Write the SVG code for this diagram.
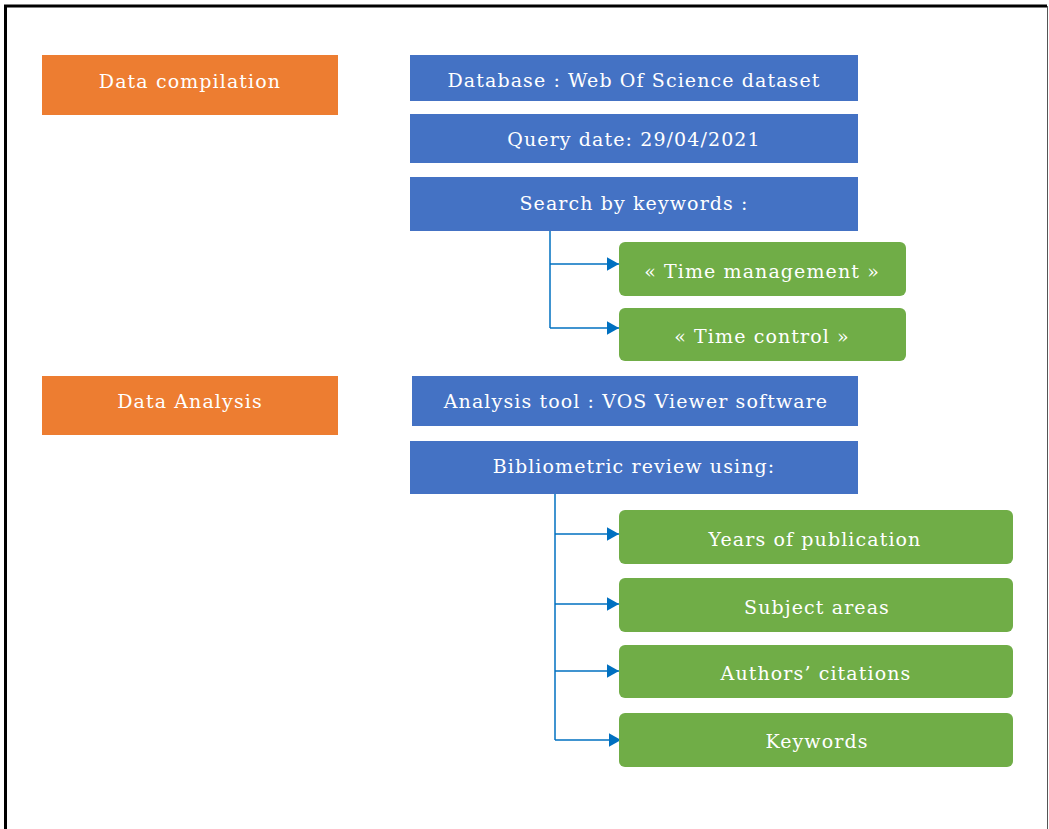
<svg xmlns="http://www.w3.org/2000/svg" width="1049" height="829" viewBox="0 0 1049 829">
<defs>
<style>
.o{fill:#ED7D31}
.b{fill:#4472C4}
.g{fill:#70AD47}
.t{fill:#fff;font-family:"DejaVu Serif","Liberation Serif",serif;font-size:19px;letter-spacing:1.1px;text-anchor:middle;dominant-baseline:central}
.c{fill:none;stroke:#0070C0;stroke-width:1.5}
</style>
<marker id="ar" viewBox="0 0 10 10" refX="10" refY="5" markerWidth="8" markerHeight="9" orient="auto" markerUnits="strokeWidth" preserveAspectRatio="none">
<path d="M0,0 L10,5 L0,10 Z" fill="#0070C0"/>
</marker>
</defs>
<rect x="0" y="0" width="1049" height="829" fill="#fff"/>
<path d="M5.5,829 V6 H1047" fill="none" stroke="#000" stroke-width="3"/>
<line x1="1047.5" y1="6" x2="1047.5" y2="829" stroke="#555" stroke-width="1"/>
<g id="connectors">
<path class="c" d="M550,231 V328"/>
<path class="c" d="M550,264 H619" marker-end="url(#ar)"/>
<path class="c" d="M550,328 H619" marker-end="url(#ar)"/>
<path class="c" d="M555,494 V740"/>
<path class="c" d="M555,534 H619" marker-end="url(#ar)"/>
<path class="c" d="M555,604 H619" marker-end="url(#ar)"/>
<path class="c" d="M555,671 H619" marker-end="url(#ar)"/>
<path class="c" d="M555,740 H621" marker-end="url(#ar)"/>
</g>
<g id="data-compilation"><rect class="o" x="42" y="55" width="296" height="60"/><text class="t" x="190" y="81">Data compilation</text></g>
<g id="database"><rect class="b" x="410" y="55" width="448" height="46"/><text class="t" x="634" y="80">Database : Web Of Science dataset</text></g>
<g id="query-date"><rect class="b" x="410" y="114" width="448" height="49"/><text class="t" x="634" y="139">Query date: 29/04/2021</text></g>
<g id="search"><rect class="b" x="410" y="177" width="448" height="54"/><text class="t" x="634" y="203">Search by keywords :</text></g>
<g id="time-management"><rect class="g" x="619" y="242" width="287" height="54" rx="6"/><text class="t" x="762" y="271">« Time management »</text></g>
<g id="time-control"><rect class="g" x="619" y="308" width="287" height="53" rx="6"/><text class="t" x="762" y="336">« Time control »</text></g>
<g id="data-analysis"><rect class="o" x="42" y="376" width="296" height="59"/><text class="t" x="190" y="401">Data Analysis</text></g>
<g id="analysis-tool"><rect class="b" x="412" y="376" width="446" height="50"/><text class="t" x="636" y="401">Analysis tool : VOS Viewer software</text></g>
<g id="bibliometric"><rect class="b" x="410" y="441" width="448" height="53"/><text class="t" x="634" y="466">Bibliometric review using:</text></g>
<g id="years"><rect class="g" x="619" y="510" width="394" height="54" rx="6"/><text class="t" x="815" y="539">Years of publication</text></g>
<g id="subject"><rect class="g" x="619" y="578" width="394" height="54" rx="6"/><text class="t" x="817" y="607">Subject areas</text></g>
<g id="authors"><rect class="g" x="619" y="645" width="394" height="53" rx="6"/><text class="t" x="816" y="673">Authors’ citations</text></g>
<g id="keywords"><rect class="g" x="619" y="713" width="394" height="54" rx="6"/><text class="t" x="817" y="741">Keywords</text></g>
</svg>
